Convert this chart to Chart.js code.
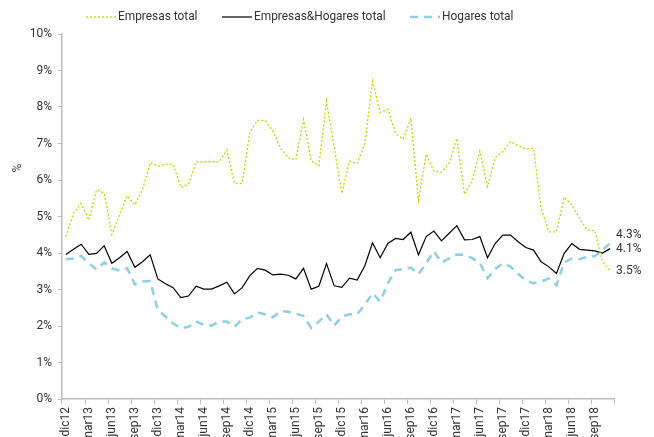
<!DOCTYPE html>
<html>
<head>
<meta charset="utf-8">
<script src="https://cdn.jsdelivr.net/npm/chart.js@4.4.1/dist/chart.umd.min.js"></script>
<style>
    html, body { margin: 0; padding: 0; background: #ffffff; }
    canvas { display: block; }
</style>
</head>
<body>
<canvas id="rateChart" width="654" height="437"></canvas>
<script>
// Monthly categories, dic12 .. nov18
const months = [
    'dic12', 'ene13', 'feb13', 'mar13', 'abr13', 'may13', 'jun13', 'jul13', 'ago13', 'sep13', 'oct13', 'nov13',
    'dic13', 'ene14', 'feb14', 'mar14', 'abr14', 'may14', 'jun14', 'jul14', 'ago14', 'sep14', 'oct14', 'nov14',
    'dic14', 'ene15', 'feb15', 'mar15', 'abr15', 'may15', 'jun15', 'jul15', 'ago15', 'sep15', 'oct15', 'nov15',
    'dic15', 'ene16', 'feb16', 'mar16', 'abr16', 'may16', 'jun16', 'jul16', 'ago16', 'sep16', 'oct16', 'nov16',
    'dic16', 'ene17', 'feb17', 'mar17', 'abr17', 'may17', 'jun17', 'jul17', 'ago17', 'sep17', 'oct17', 'nov17',
    'dic17', 'ene18', 'feb18', 'mar18', 'abr18', 'may18', 'jun18', 'jul18', 'ago18', 'sep18', 'oct18', 'nov18'
];

const empresasTotal = [
    4.45, 5.09, 5.36, 4.90, 5.73, 5.64, 4.51, 5.04, 5.57, 5.32, 5.73, 6.47,
    6.38, 6.43, 6.43, 5.80, 5.88, 6.50, 6.50, 6.50, 6.50, 6.82, 5.91, 5.91,
    7.31, 7.63, 7.63, 7.34, 6.87, 6.61, 6.55, 7.66, 6.52, 6.39, 8.16, 6.90,
    5.63, 6.52, 6.46, 7.00, 8.71, 7.85, 7.94, 7.28, 7.12, 7.69, 5.45, 6.71,
    6.25, 6.21, 6.46, 7.14, 5.61, 5.97, 6.79, 5.82, 6.61, 6.78, 7.05, 6.94,
    6.85, 6.87, 5.22, 4.58, 4.58, 5.53, 5.32, 4.95, 4.63, 4.61, 3.76, 3.52
];

const empresasHogaresTotal = [
    3.96, 4.10, 4.24, 3.96, 3.99, 4.20, 3.72, 3.87, 4.04, 3.61, 3.76, 3.95,
    3.29, 3.16, 3.05, 2.78, 2.82, 3.09, 3.01, 3.01, 3.10, 3.20, 2.88, 3.05,
    3.38, 3.58, 3.53, 3.40, 3.42, 3.39, 3.29, 3.58, 3.01, 3.09, 3.71, 3.10,
    3.06, 3.31, 3.26, 3.65, 4.28, 3.87, 4.26, 4.40, 4.37, 4.57, 3.95, 4.45,
    4.60, 4.33, 4.54, 4.75, 4.36, 4.37, 4.45, 3.87, 4.26, 4.49, 4.49, 4.31,
    4.15, 4.08, 3.76, 3.62, 3.44, 3.99, 4.26, 4.10, 4.08, 4.06, 4.00, 4.12
];

const hogaresTotal = [
    3.83, 3.85, 3.92, 3.72, 3.55, 3.74, 3.58, 3.52, 3.58, 3.14, 3.22, 3.23,
    2.44, 2.26, 2.07, 1.94, 1.98, 2.12, 2.03, 2.01, 2.12, 2.12, 1.98, 2.19,
    2.23, 2.37, 2.32, 2.24, 2.41, 2.39, 2.33, 2.28, 1.95, 2.12, 2.32, 2.01,
    2.26, 2.32, 2.32, 2.58, 2.90, 2.67, 3.17, 3.53, 3.56, 3.60, 3.42, 3.72,
    4.05, 3.74, 3.85, 3.96, 3.95, 3.86, 3.73, 3.31, 3.56, 3.72, 3.63, 3.43,
    3.25, 3.17, 3.22, 3.30, 3.12, 3.74, 3.85, 3.83, 3.90, 3.92, 4.08, 4.27
];

const seriesLabels = ['Empresas total', 'Empresas&Hogares total', 'Hogares total'];

const FONT = "Roboto, 'Liberation Sans', sans-serif";
const TEXT = '#333333';
const AXIS = '#bdbdbd';

/**
 * Legend drawn as line samples (dotted / solid / dashed) above the plot.
 * Text is squeezed a bit to mimic the condensed face of the source.
 */
const lineLegend = {
    id: 'lineLegend',
    afterDraw(chart) {
        const ctx = chart.ctx;
        const starts = [86, 222, 410];
        const y = 17;
        ctx.save();
        ctx.font = '13.5px ' + FONT;
        ctx.textBaseline = 'middle';
        chart.data.datasets.forEach((ds, i) => {
            const x = starts[i];
            ctx.beginPath();
            ctx.strokeStyle = ds.borderColor;
            ctx.lineWidth = ds.borderWidth;
            ctx.setLineDash(ds.borderDash || []);
            ctx.moveTo(x, y);
            ctx.lineTo(x + 30, y);
            ctx.stroke();
            ctx.setLineDash([]);
            ctx.save();
            ctx.translate(x + 32, y);
            ctx.scale(0.88, 1);
            ctx.fillStyle = TEXT;
            ctx.fillText(ds.label, 0, 0);
            ctx.restore();
        });
        ctx.restore();
    }
};

/**
 * Last value of each series written at the right end
 */
const endLabels = {
    id: 'endLabels',
    afterDatasetsDraw(chart) {
        const ctx = chart.ctx;
        const yScale = chart.scales.y;
        const shift = [0, 0, -8];
        ctx.save();
        ctx.font = '12px ' + FONT;
        ctx.fillStyle = TEXT;
        ctx.textBaseline = 'middle';
        chart.data.datasets.forEach((ds, i) => {
            const last = ds.data[ds.data.length - 1];
            const y = yScale.getPixelForValue(last) + shift[i];
            ctx.fillText(last.toFixed(1) + '%', chart.chartArea.right + 2, y);
        });
        ctx.restore();
    }
};

/**
 * Y axis unit title, sits above the vertical middle as in the source
 */
const yUnit = {
    id: 'yUnit',
    afterDraw(chart) {
        const ctx = chart.ctx;
        ctx.save();
        ctx.translate(18, 168);
        ctx.rotate(-Math.PI / 2);
        ctx.font = '12px ' + FONT;
        ctx.fillStyle = TEXT;
        ctx.textAlign = 'center';
        ctx.textBaseline = 'middle';
        ctx.fillText('%', 0, 0);
        ctx.restore();
    }
};

new Chart(document.getElementById('rateChart'), {
    type: 'line',
    data: {
        labels: months,
        datasets: [{
            label: seriesLabels[0],
            data: empresasTotal,
            borderColor: '#c9d400',
            borderWidth: 1.3,
            borderDash: [2, 2],
            pointRadius: 0,
            tension: 0
        }, {
            label: seriesLabels[1],
            data: empresasHogaresTotal,
            borderColor: '#000000',
            borderWidth: 1.2,
            pointRadius: 0,
            tension: 0
        }, {
            label: seriesLabels[2],
            data: hogaresTotal,
            borderColor: '#8dcfe3',
            borderWidth: 2.5,
            borderDash: [8, 6],
            pointRadius: 0,
            tension: 0
        }]
    },
    options: {
        responsive: false,
        animation: false,
        devicePixelRatio: 1,
        layout: {
            padding: { top: 34, left: 0, right: 40, bottom: 0 }
        },
        plugins: {
            legend: { display: false },
            tooltip: { enabled: false }
        },
        scales: {
            x: {
                type: 'category',
                offset: true,
                border: { display: true, color: AXIS, width: 1.5 },
                grid: {
                    display: true,
                    offset: true,
                    drawOnChartArea: false,
                    drawTicks: true,
                    tickLength: 5,
                    lineWidth: 1,
                    color: ctx => (ctx.index === undefined || ctx.index % 3 === 0 ? AXIS : 'rgba(0,0,0,0)')
                },
                ticks: {
                    autoSkip: false,
                    maxRotation: 90,
                    minRotation: 90,
                    padding: 3,
                    color: TEXT,
                    font: { family: FONT, size: 12 },
                    callback: (value, index) => (index % 3 === 0 ? months[index] : '')
                },
                afterFit(scale) {
                    scale.height = 38;
                }
            },
            y: {
                min: 0,
                max: 10,
                border: { display: true, color: AXIS, width: 1.5 },
                grid: {
                    display: true,
                    drawOnChartArea: false,
                    drawTicks: true,
                    tickLength: 4,
                    color: AXIS
                },
                ticks: {
                    stepSize: 1,
                    padding: 6,
                    color: TEXT,
                    font: { family: FONT, size: 12 },
                    callback: value => value + '%'
                },
                afterFit(scale) {
                    scale.width = 62;
                }
            }
        }
    },
    plugins: [lineLegend, endLabels, yUnit]
});
</script>
</body>
</html>
